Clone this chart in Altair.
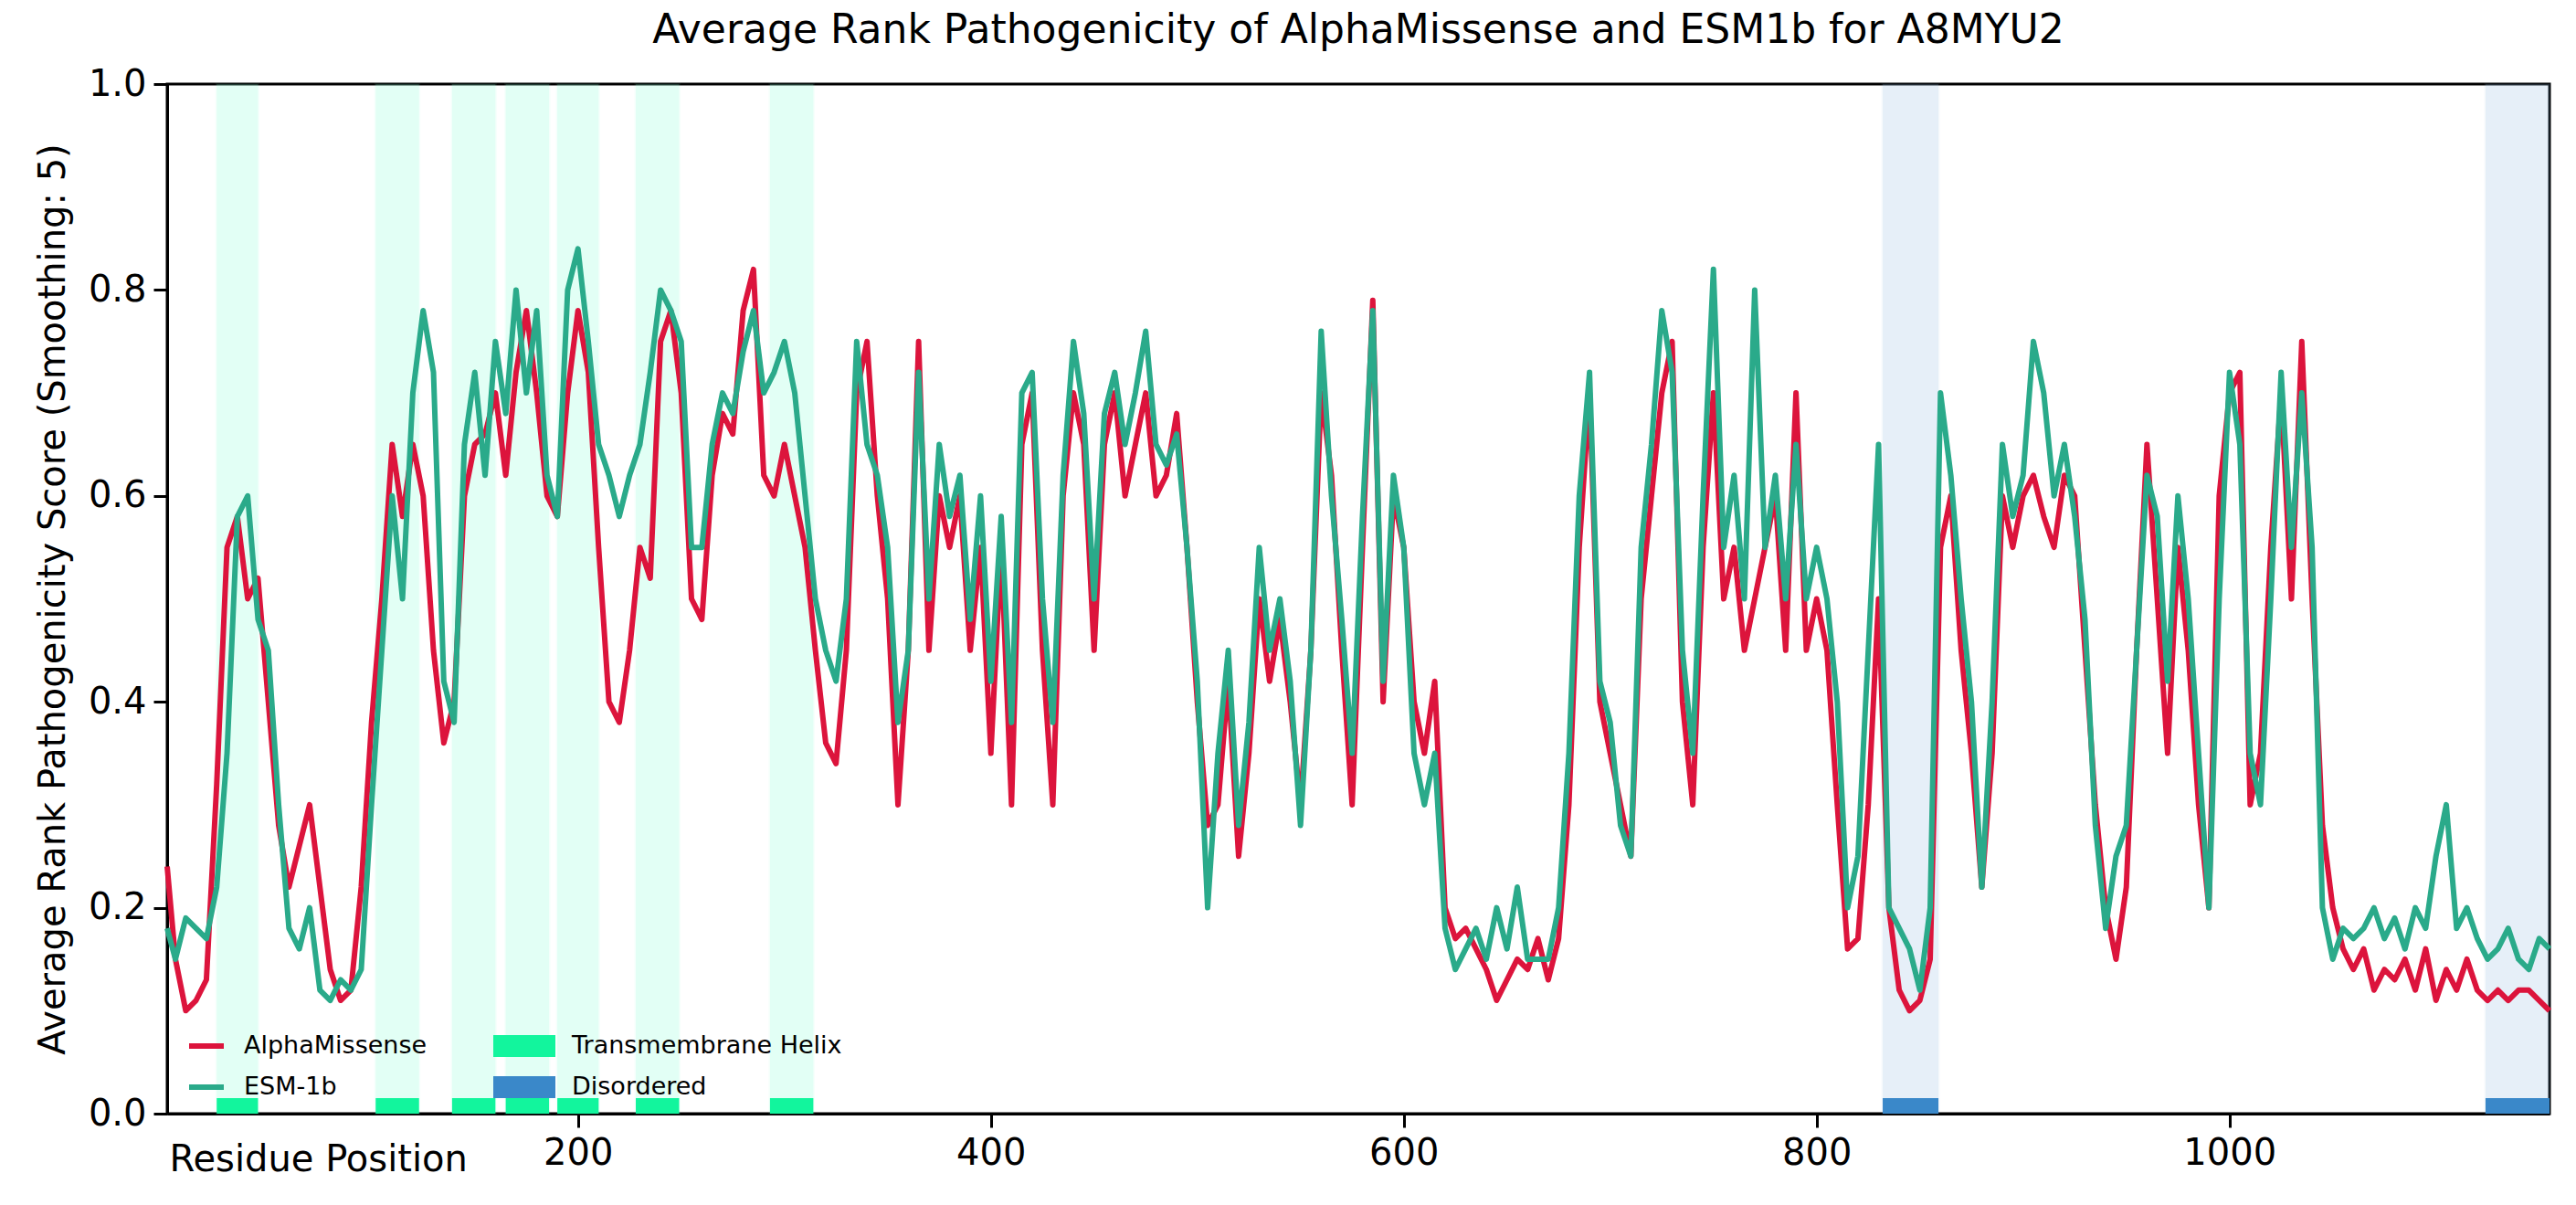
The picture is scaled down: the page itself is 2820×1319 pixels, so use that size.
import altair as alt
import pandas as pd

# residue positions: 1, then every 5th residue
positions = [1] + list(range(5, 1156, 5))

alphamissense = [0.24,
    0.15, 0.10, 0.11, 0.13, 0.32, 0.55, 0.58, 0.50, 0.52, 0.40,
    0.28, 0.22, 0.26, 0.30, 0.22, 0.14, 0.11, 0.12, 0.22, 0.38,
    0.50, 0.65, 0.58, 0.65, 0.60, 0.45, 0.36, 0.40, 0.60, 0.65,
    0.66, 0.70, 0.62, 0.72, 0.78, 0.70, 0.60, 0.58, 0.70, 0.78,
    0.72, 0.55, 0.40, 0.38, 0.45, 0.55, 0.52, 0.75, 0.78, 0.70,
    0.50, 0.48, 0.62, 0.68, 0.66, 0.78, 0.82, 0.62, 0.60, 0.65,
    0.60, 0.55, 0.45, 0.36, 0.34, 0.45, 0.70, 0.75, 0.60, 0.50,
    0.30, 0.45, 0.75, 0.45, 0.60, 0.55, 0.60, 0.45, 0.55, 0.35,
    0.55, 0.30, 0.65, 0.70, 0.45, 0.30, 0.60, 0.70, 0.65, 0.45,
    0.65, 0.70, 0.60, 0.65, 0.70, 0.60, 0.62, 0.68, 0.55, 0.40,
    0.28, 0.30, 0.42, 0.25, 0.35, 0.50, 0.42, 0.48, 0.40, 0.30,
    0.45, 0.70, 0.62, 0.45, 0.30, 0.55, 0.79, 0.40, 0.60, 0.55,
    0.40, 0.35, 0.42, 0.20, 0.17, 0.18, 0.16, 0.14, 0.11, 0.13,
    0.15, 0.14, 0.17, 0.13, 0.17, 0.30, 0.55, 0.70, 0.40, 0.35,
    0.30, 0.25, 0.50, 0.60, 0.70, 0.75, 0.40, 0.30, 0.55, 0.70,
    0.50, 0.55, 0.45, 0.50, 0.55, 0.60, 0.45, 0.70, 0.45, 0.50,
    0.45, 0.30, 0.16, 0.17, 0.30, 0.50, 0.20, 0.12, 0.10, 0.11,
    0.15, 0.55, 0.60, 0.45, 0.35, 0.22, 0.35, 0.60, 0.55, 0.60,
    0.62, 0.58, 0.55, 0.62, 0.60, 0.45, 0.30, 0.20, 0.15, 0.22,
    0.45, 0.65, 0.50, 0.35, 0.55, 0.45, 0.30, 0.20, 0.60, 0.70,
    0.72, 0.30, 0.35, 0.55, 0.70, 0.50, 0.75, 0.50, 0.28, 0.20,
    0.16, 0.14, 0.16, 0.12, 0.14, 0.13, 0.15, 0.12, 0.16, 0.11,
    0.14, 0.12, 0.15, 0.12, 0.11, 0.12, 0.11, 0.12, 0.12, 0.11,
    0.10]

esm1b = [0.18,
    0.15, 0.19, 0.18, 0.17, 0.22, 0.35, 0.58, 0.60, 0.48, 0.45,
    0.30, 0.18, 0.16, 0.20, 0.12, 0.11, 0.13, 0.12, 0.14, 0.30,
    0.45, 0.60, 0.50, 0.70, 0.78, 0.72, 0.42, 0.38, 0.65, 0.72,
    0.62, 0.75, 0.68, 0.80, 0.70, 0.78, 0.62, 0.58, 0.80, 0.84,
    0.75, 0.65, 0.62, 0.58, 0.62, 0.65, 0.72, 0.80, 0.78, 0.75,
    0.55, 0.55, 0.65, 0.70, 0.68, 0.74, 0.78, 0.70, 0.72, 0.75,
    0.70, 0.60, 0.50, 0.45, 0.42, 0.50, 0.75, 0.65, 0.62, 0.55,
    0.38, 0.45, 0.72, 0.50, 0.65, 0.58, 0.62, 0.48, 0.60, 0.42,
    0.58, 0.38, 0.70, 0.72, 0.50, 0.38, 0.62, 0.75, 0.68, 0.50,
    0.68, 0.72, 0.65, 0.70, 0.76, 0.65, 0.63, 0.66, 0.55, 0.42,
    0.20, 0.35, 0.45, 0.28, 0.38, 0.55, 0.45, 0.50, 0.42, 0.28,
    0.45, 0.76, 0.60, 0.48, 0.35, 0.58, 0.78, 0.42, 0.62, 0.55,
    0.35, 0.30, 0.35, 0.18, 0.14, 0.16, 0.18, 0.15, 0.20, 0.16,
    0.22, 0.15, 0.15, 0.15, 0.20, 0.35, 0.60, 0.72, 0.42, 0.38,
    0.28, 0.25, 0.55, 0.65, 0.78, 0.72, 0.45, 0.35, 0.60, 0.82,
    0.55, 0.62, 0.50, 0.80, 0.55, 0.62, 0.50, 0.65, 0.50, 0.55,
    0.50, 0.40, 0.20, 0.25, 0.45, 0.65, 0.20, 0.18, 0.16, 0.12,
    0.20, 0.70, 0.62, 0.50, 0.40, 0.22, 0.40, 0.65, 0.58, 0.62,
    0.75, 0.70, 0.60, 0.65, 0.58, 0.48, 0.28, 0.18, 0.25, 0.28,
    0.45, 0.62, 0.58, 0.42, 0.60, 0.50, 0.35, 0.20, 0.50, 0.72,
    0.65, 0.35, 0.30, 0.50, 0.72, 0.55, 0.70, 0.55, 0.20, 0.15,
    0.18, 0.17, 0.18, 0.20, 0.17, 0.19, 0.16, 0.20, 0.18, 0.25,
    0.30, 0.18, 0.20, 0.17, 0.15, 0.16, 0.18, 0.15, 0.14, 0.17,
    0.16]

region_start = [25, 102, 139, 165, 190, 228, 293, 832, 1124]
region_end = [45, 123, 160, 186, 210, 249, 314, 859, 1155]
region_type = ["Transmembrane Helix"] * 7 + ["Disordered"] * 2

W, H = 2608, 1127
X_MAX = 1155

lines = pd.DataFrame({
    "pos": positions * 2,
    "score": alphamissense + esm1b,
    "model": ["AlphaMissense"] * len(positions) + ["ESM-1b"] * len(positions),
})
regions = pd.DataFrame({"start": region_start, "end": region_end, "type": region_type})

xs = alt.Scale(domain=[1, X_MAX], nice=False, zero=False)
ys = alt.Scale(domain=[0, 1], nice=False)
shade_col = alt.Scale(domain=["Transmembrane Helix", "Disordered"], range=["#7fffd4", "#8fbbe3"])
bar_col = alt.Scale(domain=["Transmembrane Helix", "Disordered"], range=["#12f59d", "#3a88c9"])
line_col = alt.Scale(domain=["AlphaMissense", "ESM-1b"], range=["#dc143c", "#2aaa8a"])

base_x = alt.X("start:Q", scale=xs, axis=alt.Axis(
    values=[200, 400, 600, 800, 1000], format="d", title="Residue Position",
    titleAnchor="start", titleX=2, titleY=50, titleBaseline="middle", titleAlign="left",
    titleFontWeight="normal"))

shade = alt.Chart(regions).mark_rect(opacity=0.22, strokeWidth=3, strokeOpacity=0.3).encode(
    x=base_x, x2="end:Q", y=alt.value(0), y2=alt.value(H),
    fill=alt.Color("type:N", scale=shade_col, legend=None),
    stroke=alt.Color("type:N", scale=shade_col, legend=None),
)

bars = alt.Chart(regions).mark_rect().encode(
    x=alt.X("start:Q", scale=xs), x2="end:Q",
    y=alt.datum(0, scale=ys), y2=alt.datum(0.015),
    color=alt.Color("type:N", scale=bar_col, legend=None),
)

curves = alt.Chart(lines).mark_line(strokeWidth=6, strokeJoin="round").encode(
    x=alt.X("pos:Q", scale=xs),
    y=alt.Y("score:Q", scale=ys, axis=alt.Axis(
        values=[0, 0.2, 0.4, 0.6, 0.8, 1.0], format=".1f",
        title="Average Rank Pathogenicity Score (Smoothing: 5)", titleFontWeight="normal",
        titlePadding=18)),
    color=alt.Color("model:N", scale=line_col, legend=None),
)

# hand-placed legend in the lower left of the plot
leg_lines = pd.DataFrame({"name": ["AlphaMissense", "ESM-1b"], "y": [1053, 1098]})
leg_rects = pd.DataFrame({"name": ["Transmembrane Helix", "Disordered"], "y": [1053, 1098]})

ll = alt.Chart(leg_lines).mark_rule(strokeWidth=6).encode(
    x=alt.value(24), x2=alt.value(62), y=alt.Y("y:Q", scale=None),
    color=alt.Color("name:N", scale=line_col, legend=None))
lt = alt.Chart(leg_lines).mark_text(align="left", baseline="middle", fontSize=27).encode(
    x=alt.value(84), y=alt.Y("y:Q", scale=None), text="name:N")
lr = alt.Chart(leg_rects).transform_calculate(y0="datum.y - 12", y1="datum.y + 12").mark_rect().encode(
    x=alt.value(357), x2=alt.value(425),
    y=alt.Y("y0:Q", scale=None), y2="y1:Q",
    color=alt.Color("name:N", scale=bar_col, legend=None))
rt = alt.Chart(leg_rects).mark_text(align="left", baseline="middle", fontSize=27).encode(
    x=alt.value(443), y=alt.Y("y:Q", scale=None), text="name:N")

chart = alt.layer(shade, bars, curves, ll, lt, lr, rt).resolve_scale(color="independent").properties(
    width=W, height=H,
    title=alt.TitleParams("Average Rank Pathogenicity of AlphaMissense and ESM1b for A8MYU2",
                          fontSize=44, fontWeight="normal", offset=16, font="DejaVu Sans"),
    autosize=alt.AutoSizeParams(type="none"),
    padding={"left": 175, "top": 84, "right": 20, "bottom": 100},
).configure_view(stroke="black", strokeWidth=3).configure_axis(
    grid=False, domainColor="black", domainWidth=3, tickColor="black", tickWidth=3, tickSize=15,
    labelFontSize=40, titleFontSize=40, labelColor="black", titleColor="black",
    labelFont="DejaVu Sans", titleFont="DejaVu Sans", labelPadding=8,
).configure_text(font="DejaVu Sans", color="black")

chart.save("out.html", embed_options={"renderer": "svg", "actions": False})
